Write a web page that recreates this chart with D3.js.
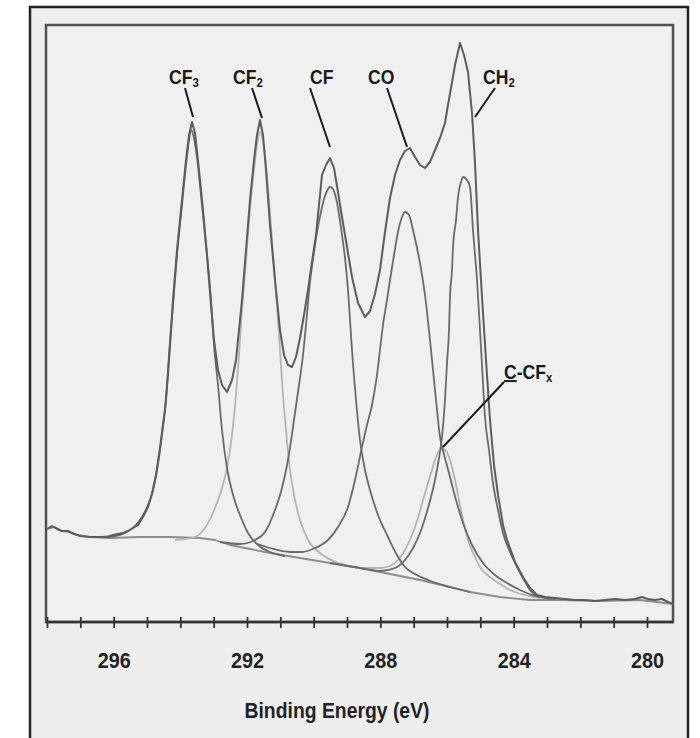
<!DOCTYPE html>
<html>
<head>
<meta charset="utf-8">
<script src="https://cdn.jsdelivr.net/npm/d3@7"></script>
<style>
    body { margin: 0; background: #ffffff; }
    svg { display: block; font-family: "Liberation Sans", Arial, sans-serif; }
    .label { font-size: 20px; font-weight: bold; fill: #1a1a1a; }
    .tick text { font-size: 22px; font-weight: bold; fill: #222; font-family: "Liberation Sans", Arial, sans-serif; }
    .axis-title { font-size: 22px; font-weight: bold; fill: #222; }
</style>
</head>
<body>
<div id="chart"></div>
<script>
'use strict';

// C 1s XPS spectrum, binding energy (eV) vs intensity (arb. units)

// Measured envelope
const envelope = [
    [298.00, 93], [297.85, 96], [297.70, 93], [297.55, 91], [297.37, 91], [297.19, 88], [297.01, 86],
    [296.71, 85], [296.41, 85], [296.17, 85], [296.02, 87], [295.87, 88], [295.72, 89], [295.57, 91],
    [295.42, 94], [295.27, 97], [295.12, 105], [294.97, 115], [294.85, 128], [294.73, 147], [294.64, 167],
    [294.55, 189], [294.46, 212], [294.37, 247], [294.31, 277], [294.22, 322], [294.10, 372], [293.95, 422],
    [293.83, 462], [293.74, 487], [293.65, 500], [293.56, 489], [293.44, 452], [293.32, 412], [293.20, 367],
    [293.08, 317], [292.99, 282], [292.87, 252], [292.75, 237], [292.60, 230], [292.45, 242], [292.33, 262],
    [292.24, 292], [292.15, 322], [292.03, 372], [291.91, 422], [291.79, 462], [291.70, 487], [291.61, 502],
    [291.52, 487], [291.43, 452], [291.31, 397], [291.16, 342], [291.01, 292], [290.89, 267], [290.77, 257],
    [290.65, 255], [290.53, 265], [290.41, 284], [290.29, 307], [290.17, 332], [290.05, 360], [289.93, 387],
    [289.84, 417], [289.75, 447], [289.63, 457], [289.51, 464], [289.39, 454], [289.27, 430], [289.15, 405],
    [289.00, 375], [288.85, 345], [288.67, 319], [288.46, 305], [288.31, 311], [288.16, 328], [288.01, 352],
    [287.86, 390], [287.71, 424], [287.56, 447], [287.41, 462], [287.26, 471], [287.11, 474], [286.96, 465],
    [286.81, 457], [286.66, 454], [286.51, 460], [286.36, 472], [286.21, 484], [286.06, 499], [285.97, 517],
    [285.88, 534], [285.76, 557], [285.61, 579], [285.49, 567], [285.37, 550], [285.25, 509], [285.16, 459],
    [285.07, 392], [284.95, 325], [284.83, 262], [284.71, 202], [284.59, 157], [284.47, 127], [284.32, 97],
    [284.20, 82], [283.96, 60], [283.72, 45], [283.51, 34], [283.30, 27], [283.06, 25], [282.76, 24],
    [282.46, 23], [282.16, 22], [281.86, 22], [281.56, 21], [281.26, 22], [280.96, 23], [280.66, 22],
    [280.36, 23], [280.15, 25], [279.97, 23], [279.76, 22], [279.55, 23], [279.37, 20], [279.22, 18]
];

// Shirley background
const background = [
    [298.00, 93], [297.76, 95], [297.55, 91], [297.31, 90], [297.07, 87], [296.71, 85], [296.11, 84],
    [295.21, 85], [294.31, 85], [293.41, 84], [292.96, 82], [292.51, 77], [291.91, 73], [291.31, 69],
    [290.41, 64], [289.51, 59], [288.61, 54], [287.71, 48], [286.81, 42], [285.91, 35], [285.31, 30],
    [284.41, 25], [283.51, 22], [282.61, 22], [281.41, 21], [280.21, 22], [279.22, 18]
];

// Fitted components
const cf3 = [
    [296.41, 85], [295.96, 86], [295.66, 89], [295.36, 96], [295.15, 105], [294.97, 117], [294.82, 132],
    [294.70, 152], [294.61, 172], [294.52, 197], [294.43, 222], [294.34, 267], [294.22, 317], [294.10, 367],
    [293.95, 417], [293.83, 457], [293.74, 482], [293.68, 492], [293.59, 484], [293.50, 464], [293.35, 417],
    [293.20, 367], [293.08, 322], [292.99, 277], [292.87, 237], [292.75, 192], [292.60, 154], [292.42, 127],
    [292.21, 107], [291.97, 89], [291.67, 77], [291.31, 70], [290.86, 66]
];

const cf2 = [
    [294.16, 82], [293.86, 83], [293.56, 85], [293.26, 94], [292.96, 114], [292.75, 134], [292.60, 154],
    [292.45, 187], [292.33, 227], [292.24, 267], [292.15, 312], [292.03, 362], [291.91, 412], [291.79, 452],
    [291.70, 477], [291.61, 490], [291.52, 480], [291.43, 457], [291.34, 422], [291.25, 382], [291.16, 342],
    [291.07, 302], [291.01, 272], [290.92, 227], [290.83, 192], [290.74, 160], [290.59, 127], [290.41, 102],
    [290.17, 82], [289.81, 69], [289.27, 59], [288.61, 54]
];

const cf = [
    [292.81, 80], [292.21, 78], [291.76, 82], [291.46, 90], [291.16, 112], [290.95, 134], [290.77, 162],
    [290.59, 202], [290.44, 237], [290.32, 267], [290.23, 297], [290.11, 340], [289.99, 370], [289.90, 390],
    [289.78, 410], [289.69, 423], [289.60, 431], [289.51, 435], [289.42, 433], [289.33, 424], [289.24, 408],
    [289.15, 387], [289.06, 364], [288.97, 332], [288.91, 302], [288.85, 272], [288.73, 222], [288.61, 182],
    [288.49, 157], [288.31, 132], [288.07, 107], [287.77, 85], [287.50, 67], [287.26, 55], [286.96, 48],
    [286.57, 42], [285.91, 35], [285.31, 30]
];

const co = [
    [291.76, 79], [291.31, 74], [290.71, 70], [290.35, 70], [289.96, 74], [289.57, 82], [289.27, 95],
    [288.97, 115], [288.76, 142], [288.55, 175], [288.40, 197], [288.25, 217], [288.10, 247], [288.01, 272],
    [287.92, 297], [287.80, 322], [287.71, 342], [287.59, 367], [287.47, 390], [287.35, 405], [287.26, 410],
    [287.14, 407], [287.02, 392], [286.90, 374], [286.81, 359], [286.66, 327], [286.51, 282], [286.33, 222],
    [286.21, 185], [286.06, 164], [285.91, 145], [285.73, 122], [285.52, 99], [285.25, 77], [284.92, 59],
    [284.56, 47], [284.20, 39], [283.81, 32], [283.36, 26], [282.91, 24]
];

const ccfx = [
    [289.21, 59], [288.61, 54], [288.01, 54], [287.71, 56], [287.47, 62], [287.26, 72], [287.05, 87],
    [286.87, 104], [286.72, 122], [286.57, 139], [286.45, 152], [286.33, 165], [286.24, 171], [286.15, 173],
    [286.03, 171], [285.91, 162], [285.76, 142], [285.64, 122], [285.52, 102], [285.37, 82], [285.19, 67],
    [285.01, 55], [284.71, 45], [284.41, 38], [284.11, 32], [283.66, 27], [283.21, 24]
];

const ch2 = [
    [289.51, 59], [288.61, 54], [288.01, 51], [287.56, 54], [287.26, 62], [287.02, 74], [286.81, 89], [286.63, 107],
    [286.48, 125], [286.36, 142], [286.24, 164], [286.15, 185], [286.06, 222], [286.00, 259], [285.94, 292],
    [285.91, 325], [285.85, 352], [285.82, 375], [285.73, 402], [285.67, 425], [285.58, 440], [285.52, 445],
    [285.40, 442], [285.31, 435], [285.22, 392], [285.10, 342], [285.01, 292], [284.95, 257], [284.86, 205],
    [284.74, 172], [284.62, 139], [284.47, 112], [284.32, 89], [284.11, 70], [283.90, 55], [283.69, 42],
    [283.51, 32], [283.21, 25], [282.76, 23]
];

// Tick values (eV)
const tickValues = d3.range(280, 299);
const labelledTicks = [296, 292, 288, 284, 280];

// Peak annotations: text anchor and leader line (eV, intensity)
const annotations = [
    { name: 'CF', sub: '3', text: [294.34, 538], from: [293.86, 534], to: [293.62, 505] },
    { name: 'CF', sub: '2', text: [292.42, 538], from: [291.85, 534], to: [291.55, 504] },
    { name: 'CF', sub: '', text: [290.11, 538], from: [290.11, 534], to: [289.51, 475] },
    { name: 'CO', sub: '', text: [288.37, 538], from: [287.80, 534], to: [287.20, 475] },
    { name: 'CH', sub: '2', text: [284.92, 538], from: [284.56, 534], to: [285.16, 505] }
];
const ccfxNote = { text: [284.29, 243], from: [284.29, 240], to: [286.12, 175] };

const width = 700, height = 738;
const box = { left: 46, right: 673, top: 25, bottom: 622 };
const squeeze = 'scale(0.88, 1)';   // condensed look for the bold labels

const svg = d3.select('#chart').append('svg')
    .attr('width', width)
    .attr('height', height);

// Frames
svg.append('rect')
    .attr('x', 30).attr('y', 7)
    .attr('width', 658).attr('height', 745)
    .attr('fill', '#eeeeee')
    .attr('stroke', '#222')
    .attr('stroke-width', 2.5);

svg.append('rect')
    .attr('x', box.left).attr('y', box.top)
    .attr('width', box.right - box.left).attr('height', box.bottom - box.top)
    .attr('fill', '#f0f0f0')
    .attr('stroke', '#505050')
    .attr('stroke-width', 2.5);

const x = d3.scaleLinear()
    .domain([298.03, 279.22])
    .range([box.left, box.right]);

const y = d3.scaleLinear()
    .domain([0, 597])
    .range([box.bottom, box.top]);

const smooth = d3.line()
    .x(d => x(d[0]))
    .y(d => y(d[1]))
    .curve(d3.curveMonotoneX);

const raw = d3.line()
    .x(d => x(d[0]))
    .y(d => y(d[1]));

const plot = svg.append('g');

const series = [
    { data: background, color: '#8c8c8c', w: 1.8, gen: raw },
    { data: cf2, color: '#b4b4b4', w: 1.8, gen: smooth },
    { data: ccfx, color: '#b4b4b4', w: 1.8, gen: smooth },
    { data: cf3, color: '#6a6a6a', w: 1.8, gen: smooth },
    { data: cf, color: '#6a6a6a', w: 1.8, gen: smooth },
    { data: co, color: '#6a6a6a', w: 1.8, gen: smooth },
    { data: ch2, color: '#6a6a6a', w: 1.8, gen: smooth },
    { data: envelope, color: '#5c5c5c', w: 2, gen: raw }
];

plot.selectAll('path.curve')
    .data(series)
    .join('path')
    .classed('curve', true)
    .attr('d', d => d.gen(d.data))
    .attr('fill', 'none')
    .attr('stroke', d => d.color)
    .attr('stroke-width', d => d.w)
    .attr('stroke-linejoin', 'round');

// Bottom axis
const axis = svg.append('g')
    .attr('transform', `translate(0, ${box.bottom})`)
    .call(d3.axisBottom(x)
        .tickValues(tickValues)
        .tickFormat(d => labelledTicks.includes(d) ? d : '')
        .tickSize(6)
        .tickPadding(24));

axis.select('.domain')
    .attr('stroke', '#333')
    .attr('stroke-width', 2.5)
    .attr('d', `M${box.left},0H${box.right}`);

axis.selectAll('.tick line')
    .attr('stroke', '#333')
    .attr('stroke-width', 1.8)
    .attr('y1', -5)
    .attr('y2', 6);

axis.selectAll('.tick text')
    .attr('transform', 'scale(0.9, 1)');

svg.append('g')
    .attr('transform', 'translate(337, 718)')
    .append('text')
    .classed('axis-title', true)
    .attr('text-anchor', 'middle')
    .attr('transform', squeeze)
    .text('Binding Energy (eV)');

// Annotations
const notes = svg.append('g');

notes.selectAll('line.leader')
    .data([...annotations, ccfxNote])
    .join('line')
    .classed('leader', true)
    .attr('x1', d => x(d.from[0]))
    .attr('y1', d => y(d.from[1]))
    .attr('x2', d => x(d.to[0]))
    .attr('y2', d => y(d.to[1]))
    .attr('stroke', '#1a1a1a')
    .attr('stroke-width', 2);

const labels = notes.selectAll('g.label-g')
    .data(annotations)
    .join('g')
    .classed('label-g', true)
    .attr('transform', d => `translate(${x(d.text[0])}, ${y(d.text[1])})`)
    .append('text')
    .classed('label', true)
    .attr('transform', squeeze);

labels.append('tspan').text(d => d.name);
labels.append('tspan')
    .attr('dy', 3)
    .style('font-size', '13px')
    .text(d => d.sub);

const ccfxLabel = notes.append('g')
    .attr('transform', `translate(${x(ccfxNote.text[0])}, ${y(ccfxNote.text[1])})`)
    .append('text')
    .classed('label', true)
    .attr('transform', squeeze);

ccfxLabel.append('tspan').style('text-decoration', 'underline').text('C');
ccfxLabel.append('tspan').text('-CF');
ccfxLabel.append('tspan').attr('dy', 3).style('font-size', '13px').text('x');
</script>
</body>
</html>
